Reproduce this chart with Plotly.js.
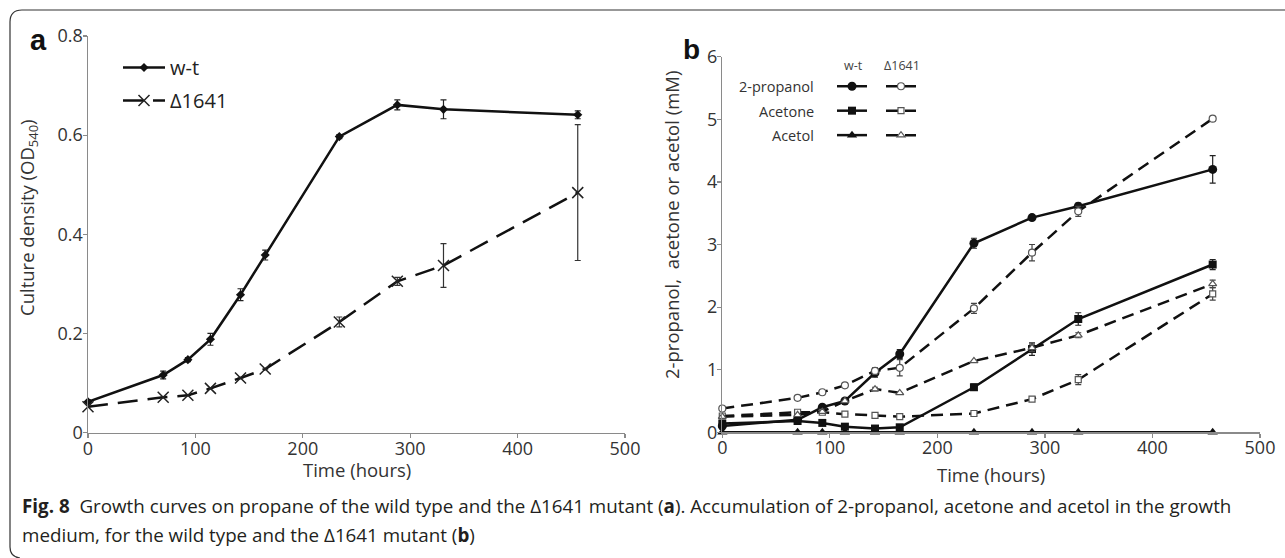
<!DOCTYPE html>
<html>
<head>
<meta charset="utf-8">
<script src="https://cdn.plot.ly/plotly-3.0.1.min.js"></script>
<style>html,body{margin:0;padding:0;background:#fff;}#chart{width:1285px;height:558px;}</style>
</head>
<body>
<div id="chart"></div>
<script>
// ---- Data ----
var timeHours = [0, 70, 93, 114, 142, 165, 234, 288, 331, 456];

// Panel a: culture density OD540
var odWildType    = [0.062, 0.116, 0.147, 0.188, 0.278, 0.358, 0.597, 0.661, 0.652, 0.641];
var odWildTypeErr = [0.004, 0.008, 0.004, 0.012, 0.012, 0.010, 0.004, 0.010, 0.019, 0.008];
var odMutant      = [0.052, 0.071, 0.075, 0.089, 0.110, 0.128, 0.223, 0.305, 0.337, 0.484];
var odMutantErr   = [0, 0, 0, 0, 0, 0, 0.010, 0.008, 0.044, 0.137];

// Panel b: metabolites (mM)
var propanolWT     = [0.10, 0.20, 0.40, 0.50, 0.95, 1.25, 3.02, 3.43, 3.61, 4.20];
var propanolWTErr  = [0, 0, 0.03, 0.03, 0.07, 0.07, 0.08, 0.04, 0.05, 0.22];
var acetoneWT      = [0.14, 0.18, 0.15, 0.09, 0.06, 0.08, 0.72, 1.33, 1.81, 2.68];
var acetoneWTErr   = [0, 0, 0, 0, 0, 0, 0.05, 0.10, 0.10, 0.08];
var acetolWT       = [0, 0, 0, 0, 0, 0, 0, 0, 0, 0];
var propanolMut    = [0.38, 0.55, 0.64, 0.75, 0.98, 1.03, 1.98, 2.87, 3.53, 5.01];
var propanolMutErr = [0, 0, 0, 0.03, 0.05, 0.13, 0.08, 0.13, 0.08, 0.03];
var acetoneMut     = [0.26, 0.32, 0.32, 0.29, 0.27, 0.25, 0.30, 0.53, 0.84, 2.21];
var acetoneMutErr  = [0, 0, 0, 0, 0, 0, 0, 0.03, 0.08, 0.10];
var acetolMut      = [0.25, 0.28, 0.33, 0.50, 0.69, 0.63, 1.14, 1.35, 1.55, 2.37];
var acetolMutErr   = [0, 0, 0, 0, 0.03, 0, 0, 0.06, 0.04, 0.06];

var seriesNamesA = ['w-t', '\u03941641'];
var rowLabelsB = ['2-propanol', 'Acetone', 'Acetol'];
var colHeadersB = ['w-t', '\u03941641'];
var tickValsA = [0, 0.2, 0.4, 0.6, 0.8];
var tickValsB = [0, 1, 2, 3, 4, 5, 6];
var tickValsX = [0, 100, 200, 300, 400, 500];

// ---- Helpers ----
var W = 1285, H = 558;
function px(x) { return x / W; }
function py(y) { return 1 - y / H; }
var FONT = 'Open Sans, Noto Sans, sans-serif';
var dashA = '20px,10px';
var dashB = '12px,7px';

function err(arr, color) {
  return {type: 'data', array: arr, visible: true, color: color || '#222', thickness: 1.2, width: 3};
}

var traces = [
  // Panel a
  {x: timeHours, y: odWildType, error_y: err(odWildTypeErr), xaxis: 'x', yaxis: 'y',
   mode: 'lines+markers', name: seriesNamesA[0], legend: 'legend', legendgroup: 'a1',
   line: {color: '#111', width: 2.5}, marker: {symbol: 'diamond', size: 7, color: '#111'}, cliponaxis: false},
  {x: timeHours, y: odMutant, error_y: err(odMutantErr, '#333'), xaxis: 'x', yaxis: 'y',
   mode: 'lines+markers', name: seriesNamesA[1], legend: 'legend', legendgroup: 'a2',
   line: {color: '#111', width: 2.5, dash: dashA},
   marker: {symbol: 'x-thin-open', size: 11, color: '#222', line: {color: '#222', width: 1.5}}, cliponaxis: false},

  // Panel b : wild type (solid)
  {x: timeHours, y: propanolWT, error_y: err(propanolWTErr), xaxis: 'x2', yaxis: 'y2',
   mode: 'lines+markers', name: '', legend: 'legend2',
   line: {color: '#111', width: 2.5}, marker: {symbol: 'circle', size: 9, color: '#111'}, cliponaxis: false},
  {x: timeHours, y: acetoneWT, error_y: err(acetoneWTErr), xaxis: 'x2', yaxis: 'y2',
   mode: 'lines+markers', name: '', legend: 'legend2',
   line: {color: '#111', width: 2.5}, marker: {symbol: 'square', size: 8, color: '#111'}, cliponaxis: false},
  {x: timeHours, y: acetolWT, xaxis: 'x2', yaxis: 'y2',
   mode: 'lines+markers', name: '', legend: 'legend2',
   line: {color: '#111', width: 2.5}, marker: {symbol: 'triangle-up', size: 9, color: '#111'}, cliponaxis: false},

  // Panel b : mutant (dashed, open markers)
  {x: timeHours, y: propanolMut, error_y: err(propanolMutErr, '#444'), xaxis: 'x2', yaxis: 'y2',
   mode: 'lines+markers', name: '', legend: 'legend3',
   line: {color: '#111', width: 2.5, dash: dashB},
   marker: {symbol: 'circle', size: 7, color: '#fff', line: {color: '#555', width: 1.2}}, cliponaxis: false},
  {x: timeHours, y: acetoneMut, error_y: err(acetoneMutErr, '#444'), xaxis: 'x2', yaxis: 'y2',
   mode: 'lines+markers', name: '', legend: 'legend3',
   line: {color: '#111', width: 2.5, dash: dashB},
   marker: {symbol: 'square', size: 6, color: '#fff', line: {color: '#555', width: 1.2}}, cliponaxis: false},
  {x: timeHours, y: acetolMut, error_y: err(acetolMutErr, '#444'), xaxis: 'x2', yaxis: 'y2',
   mode: 'lines+markers', name: '', legend: 'legend3',
   line: {color: '#111', width: 2.5, dash: dashB},
   marker: {symbol: 'triangle-up', size: 7, color: '#fff', line: {color: '#555', width: 1.2}}, cliponaxis: false}
];

var axisCommon = {
  showgrid: false, zeroline: false, showline: true, linecolor: '#8a8a8a', linewidth: 1.5,
  ticks: 'outside', ticklen: 4, tickcolor: '#8a8a8a', tickwidth: 1.2,
  tickfont: {family: FONT, size: 18, color: '#333'}, fixedrange: true
};
function ax(extra) { return Object.assign({}, axisCommon, extra); }

var titleFont = {family: FONT, size: 18.5, color: '#333'};

function note(text, x, y, font, extra) {
  return Object.assign({text: text, x: px(x), y: py(y), xref: 'paper', yref: 'paper',
    xanchor: 'center', yanchor: 'middle', showarrow: false, font: font}, extra || {});
}

var annotations = [
  note('<b>a</b>', 38, 40, {family: 'Liberation Sans, Arial, sans-serif', size: 29, color: '#111'}),
  note('<b>b</b>', 691, 49, {family: 'Liberation Sans, Arial, sans-serif', size: 28, color: '#111'}),
  note(colHeadersB[0], 853, 65, {family: FONT, size: 12.5, color: '#444'}),
  note(colHeadersB[1], 902, 65, {family: FONT, size: 12.5, color: '#444'}),
  // axis titles
  note('Time (hours)', 356.5, 469, titleFont),
  note('Time (hours)', 991, 474, titleFont),
  note('Culture density (OD<sub>540</sub>)', 28, 218, titleFont, {textangle: -90}),
  note('2-propanol,\u00a0 acetone or acetol (mM)', 671, 225, titleFont, {textangle: -90}),
  // caption
  note('<b>Fig. 8</b>  Growth curves on propane of the wild type and the \u03941641 mutant (<b>a</b>). Accumulation of 2-propanol, acetone and acetol in the growth',
    20, 506, {family: FONT, size: 18.8, color: '#231f20'}, {xanchor: 'left'}),
  note('medium, for the wild type and the \u03941641 mutant (<b>b</b>)',
    20, 535, {family: FONT, size: 18.8, color: '#231f20'}, {xanchor: 'left'})
];
var rowY = [87, 111, 136];
rowLabelsB.forEach(function (t, i) {
  annotations.push(note(t, 816, rowY[i], {family: FONT, size: 14.5, color: '#333'}, {xanchor: 'right'}));
});

var layout = {
  width: W, height: H, autosize: false,
  margin: {l: 0, r: 0, t: 0, b: 0},
  paper_bgcolor: '#fff', plot_bgcolor: 'rgba(0,0,0,0)',
  font: {family: FONT, color: '#333'},
  xaxis: ax({domain: [px(88), px(625)], range: [0, 500], tickvals: tickValsX, anchor: 'y', ticklabelstandoff: -5}),
  yaxis: ax({domain: [py(432.5), py(36)], range: [0, 0.8], tickvals: tickValsA, anchor: 'x', ticklabelstandoff: -4}),
  xaxis2: ax({domain: [px(722.3), px(1260)], range: [0, 500], tickvals: tickValsX, anchor: 'y2', ticklabelstandoff: -5}),
  yaxis2: ax({domain: [py(432.3), py(56.7)], range: [0, 6], tickvals: tickValsB, anchor: 'x2', ticklabelstandoff: -4}),
  legend: {x: px(118), y: py(48), xanchor: 'left', yanchor: 'top', bgcolor: 'rgba(0,0,0,0)',
    font: {family: FONT, size: 20, color: '#222'}, itemwidth: 42, tracegroupgap: 4},
  legend2: {x: px(832), y: py(69), xanchor: 'left', yanchor: 'top', bgcolor: 'rgba(0,0,0,0)',
    font: {family: FONT, size: 16.5, color: '#222'}, itemwidth: 30},
  legend3: {x: px(881), y: py(69), xanchor: 'left', yanchor: 'top', bgcolor: 'rgba(0,0,0,0)',
    font: {family: FONT, size: 16.5, color: '#222'}, itemwidth: 30},
  showlegend: true,
  annotations: annotations,
  shapes: [
    {type: 'path', xref: 'paper', yref: 'paper', layer: 'below',
     path: 'M ' + px(1290) + ',' + py(10) + ' L ' + px(22) + ',' + py(10) +
           ' Q ' + px(10) + ',' + py(10) + ' ' + px(10) + ',' + py(22) +
           ' L ' + px(10) + ',' + py(547) +
           ' Q ' + px(10) + ',' + py(557) + ' ' + px(20) + ',' + py(558),
     line: {color: '#333', width: 1.2}}
  ]
};

Plotly.newPlot('chart', traces, layout, {staticPlot: true, displayModeBar: false});
</script>
</body>
</html>
